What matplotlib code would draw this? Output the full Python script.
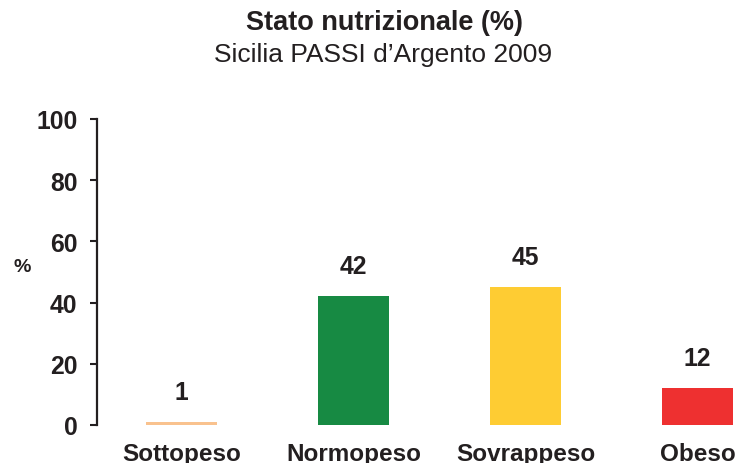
import matplotlib
matplotlib.use("Agg")
import matplotlib.pyplot as plt

categories = ["Sottopeso", "Normopeso", "Sovrappeso", "Obeso"]
values = [1, 42, 45, 12]
colors = ["#F9C28E", "#178A43", "#FECC33", "#EE3030"]
yticks = [0, 20, 40, 60, 80, 100]
title = "Stato nutrizionale (%)"
subtitle = "Sicilia PASSI d\u2019Argento 2009"

plt.rcParams['font.family'] = ['Liberation Sans', 'DejaVu Sans']
txt = "#231F20"

W, H = 736, 464
fig = plt.figure(figsize=(W / 100, H / 100), dpi=100)
left = 97 / W
right = 782 / W
bottom = (H - 426) / H
top = (H - 120) / H
ax = fig.add_axes([left, bottom, right - left, top - bottom])

x = list(range(len(categories)))
ax.bar(x, values, width=0.41, color=colors)
ax.set_xlim(-0.49, 3.49)
ax.set_ylim(0, 100)
ax.set_yticks(yticks)
ax.set_xticks(x)
ax.set_xticklabels(categories, fontsize=17.5, fontweight='bold', color=txt)
ax.tick_params(axis='x', length=0, pad=12)
ax.tick_params(axis='y', length=5, width=1.5, pad=9, labelsize=17.8, colors=txt, direction='out')
for lab in ax.get_yticklabels():
    lab.set_fontweight('bold')
for s in ['top', 'right', 'bottom']:
    ax.spines[s].set_visible(False)
ax.spines['left'].set_linewidth(1.6)
ax.spines['left'].set_color(txt)

for xi, v in zip(x, values):
    ax.annotate(f"{v}", (xi, v), xytext=(0, 13), textcoords='offset points',
                ha='center', va='bottom', fontsize=17.8, fontweight='bold', color=txt)

fig.text(22 / W, 1 - 268 / H, "%", ha='center', va='center', fontsize=14,
         fontweight='bold', color=txt)
fig.text(384 / W, 1 - 23 / H, title, ha='center', va='center', fontsize=19.5,
         fontweight='bold', color=txt)
fig.text(383 / W, 1 - 55 / H, subtitle, ha='center', va='center', fontsize=19,
         color=txt)

fig.savefig("out.png", dpi=100)
